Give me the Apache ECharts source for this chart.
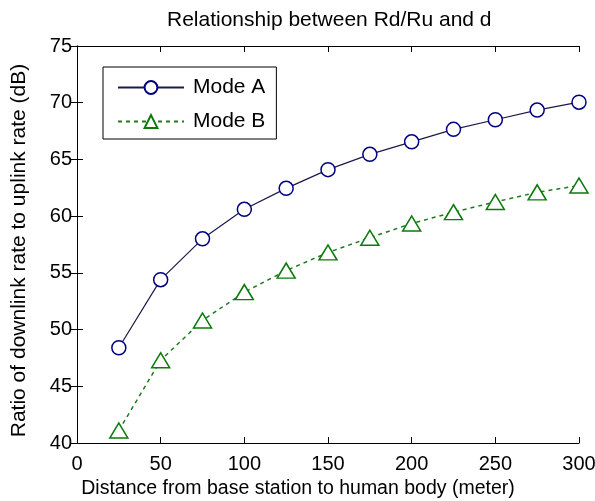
<!DOCTYPE html>
<html><head><meta charset="utf-8">
<script src="https://cdn.jsdelivr.net/npm/echarts@6/dist/echarts.min.js"></script>
<style>html,body{margin:0;padding:0;background:#fff}#c{width:595px;height:501px}</style>
</head><body><div id="c"></div>
<script>
var distances = [25, 50, 75, 100, 125, 150, 175, 200, 225, 250, 275, 300];
var modeA = [48.4, 54.4, 58.0, 60.6, 62.45, 64.1, 65.45, 66.55, 67.65, 68.5, 69.35, 70.05];
var modeB = [41.1, 47.3, 50.8, 53.3, 55.2, 56.8, 58.1, 59.35, 60.35, 61.25, 62.1, 62.7];
var xTicks = [0, 50, 100, 150, 200, 250, 300];
var yTicks = [40, 45, 50, 55, 60, 65, 70, 75];

var FONT = 'Liberation Sans';
function pairs(xs, ys){ return xs.map(function(x,i){return [x, ys[i]];}); }

var chart = echarts.init(document.getElementById('c'), null, {renderer:'canvas'});
var axisCommon = {
  axisLine:{show:true, lineStyle:{color:'#000', width:1}},
  axisTick:{show:true, inside:true, length:6, lineStyle:{color:'#000'}},
  splitLine:{show:false}
};
chart.setOption({
  animation:false,
  backgroundColor:'#fff',
  title:{text:'Relationship between Rd/Ru and d', left:162, top:5,
    textStyle:{fontFamily:FONT, fontSize:21, fontWeight:'normal', color:'#000'}},
  grid:{left:77, right:16, top:46, bottom:58, containLabel:false, outerBoundsMode:'none'},
  legend:{orient:'vertical', left:103, top:67, itemWidth:66, itemHeight:16, itemGap:13,
    padding:[10,11,7,14], borderColor:'#000', borderWidth:1, backgroundColor:'#fff',
    textStyle:{fontFamily:FONT, fontSize:21, color:'#000', padding:[0,0,0,4]},
    data:['Mode A','Mode B']},
  xAxis:[
    Object.assign({type:'value', min:0, max:300, interval:50, position:'bottom',
      name:'Distance from base station to human body (meter)', nameLocation:'middle', nameGap:34,
      nameTextStyle:{fontFamily:FONT, fontSize:19.5, color:'#000', padding:[0,60,0,0]},
      axisLabel:{fontFamily:FONT, fontSize:20, color:'#000', margin:11}}, axisCommon),
    Object.assign({type:'value', min:0, max:300, interval:50, position:'top',
      axisLabel:{show:false}}, axisCommon)
  ],
  yAxis:[
    Object.assign({type:'value', min:40, max:75, interval:5, position:'left',
      name:'Ratio of downlink rate to uplink rate (dB)', nameLocation:'middle', nameGap:47,
      nameTextStyle:{fontFamily:FONT, fontSize:21, color:'#000', padding:[0,12,0,0]},
      axisLabel:{fontFamily:FONT, fontSize:20, color:'#000', margin:5}}, axisCommon),
    Object.assign({type:'value', min:40, max:75, interval:5, position:'right',
      axisLabel:{show:false}}, axisCommon)
  ],
  series:[
    {name:'Mode A', type:'line', data:pairs(distances, modeA), symbol:'circle', symbolSize:14,
      showAllSymbol:true,
      lineStyle:{color:'#1a1a4a', width:1.2, type:'solid'},
      itemStyle:{color:'#fff', borderColor:'#000080', borderWidth:1.5}},
    {name:'Mode B', type:'line', data:pairs(distances, modeB), symbol:'triangle', symbolSize:[18,15],
      showAllSymbol:true,
      lineStyle:{color:'#1e7a1e', width:1.5, type:[4,4]},
      itemStyle:{color:'#fff', borderColor:'#0a7a0a', borderWidth:1.5}}
  ]
});
</script></body></html>
